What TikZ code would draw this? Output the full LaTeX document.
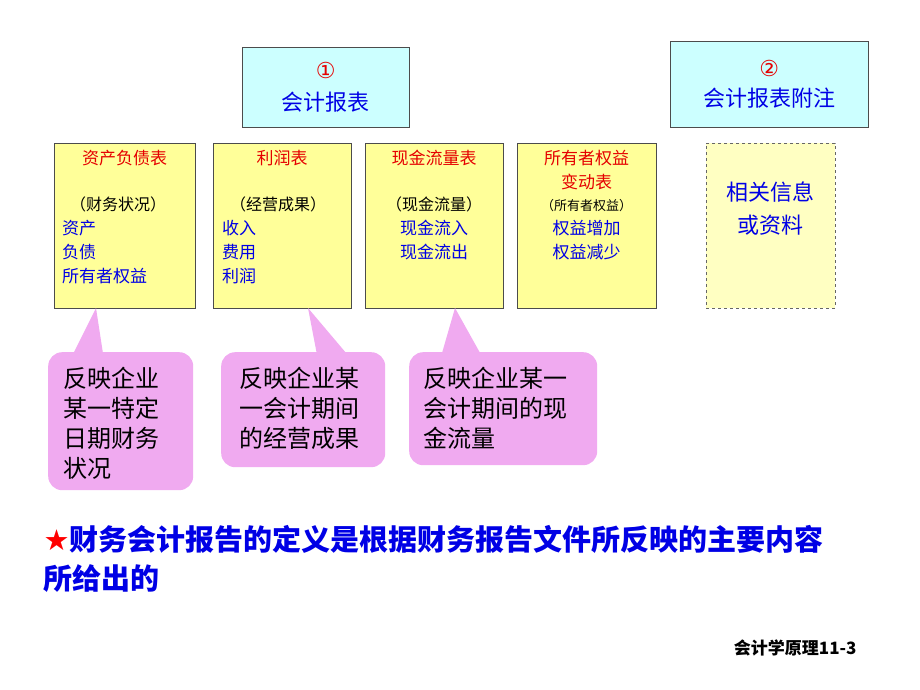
\documentclass[tikz,border=0pt]{standalone}
\usepackage{fontspec}
\setmainfont{Noto Sans CJK SC}
\newfontfamily\symfont{DejaVu Sans}
\usetikzlibrary{positioning}
\colorlet{myred}{red!90!black}
\colorlet{myblue}{blue!90!black}
\definecolor{paleyellow}{RGB}{255,255,153}
\definecolor{palecyan}{RGB}{204,255,255}
\definecolor{pink}{RGB}{240,170,240}
\tikzset{
  reportbox/.style={draw=black!70,fill=paleyellow,minimum width=141pt,minimum height=165pt,anchor=north west,inner sep=0pt},
  titlebox/.style={draw=black!70,fill=palecyan,anchor=north west,inner sep=0pt},
  callout/.style={fill=pink,rounded corners=14pt,anchor=north west,inner sep=0pt}
}
\begin{document}
\begin{tikzpicture}[x=1pt,y=-1pt,font=\fontsize{17}{24}\selectfont]
\useasboundingbox (0,0) rectangle (920,690);
% top title boxes
\node[titlebox,minimum width=167pt,minimum height=80pt] (rep) at (242,47)
  {\parbox{160pt}{\centering\fontsize{22}{32}\selectfont\color{myred}{\symfont ①}\\\color{myblue}会计报表}};
\node[titlebox,minimum width=198pt,minimum height=86pt] (note) at (670,41)
  {\parbox{190pt}{\centering\fontsize{22}{30}\selectfont\color{myred}{\symfont ②}\\\color{myblue}会计报表附注}};
% four statements
\node[reportbox] (bal) at (54,143) {};
\node[reportbox,minimum width=138pt] (inc) at (213,143) {};
\node[reportbox,minimum width=138pt] (cash) at (365,143) {};
\node[reportbox,minimum width=139pt] (eq) at (517,143) {};
\node[reportbox,minimum width=129pt,dashed,draw=black!60,fill=paleyellow!60] (info) at (706,143) {};
\node[anchor=north,text=myred] (balt) at (bal.north) [yshift=-4pt] {资产负债表};
\node[anchor=north west,align=left,text=myblue,inner sep=0pt] (balb) at ([xshift=8pt,yshift=-54pt]bal.north west)
  {\hspace*{8pt}\color{black}\fontsize{16}{24}\selectfont （财务状况）\\资产\\负债\\所有者权益};
\node[anchor=north,text=myred] (inct) at (inc.north) [yshift=-4pt] {利润表};
\node[anchor=north west,align=left,text=myblue,inner sep=0pt] (incb) at ([xshift=9pt,yshift=-54pt]inc.north west)
  {\hspace*{8pt}\color{black}\fontsize{16}{24}\selectfont （经营成果）\\收入\\费用\\利润};
\node[anchor=north,text=myred] (casht) at (cash.north) [yshift=-4pt] {现金流量表};
\node[anchor=north,align=center,text=myblue,inner sep=0pt] (cashb) at ([yshift=-54pt]cash.north)
  {\color{black}\fontsize{16}{24}\selectfont （现金流量）\\现金流入\\现金流出};
\node[anchor=north,text=myred,align=center] (eqt) at (eq.north) [yshift=-4pt] {所有者权益\\变动表};
\node[anchor=north,align=center,text=myblue,inner sep=0pt] (eqb) at ([yshift=-56pt]eq.north)
  {\color{black}\fontsize{13}{23}\selectfont （所有者权益）\\权益增加\\权益减少};
\node[text=myblue,align=center,font=\fontsize{22}{33}\selectfont] (infot) at ([yshift=-66pt]info.north) {相关信息\\或资料};
% callouts
\node[callout,minimum width=145pt,minimum height=138pt] (c1) at (48,352) {};
\fill[pink] (70,360) -- (96,308) -- (104,360) -- cycle;
\node[anchor=north west,align=left,font=\fontsize{24}{30}\selectfont] at (60,364) {反映企业\\某一特定\\日期财务\\状况};
\node[callout,minimum width=164pt,minimum height=115pt] (c2) at (221,352) {};
\fill[pink] (318,360) -- (308,308) -- (352,360) -- cycle;
\node[anchor=north west,align=left,font=\fontsize{24}{30}\selectfont] at (236,364) {反映企业某\\一会计期间\\的经营成果};
\node[callout,minimum width=188pt,minimum height=113pt] (c3) at (409,352) {};
\fill[pink] (440,360) -- (455,308) -- (484,360) -- cycle;
\node[anchor=north west,align=left,font=\fontsize{24}{30}\selectfont] at (420,364) {反映企业某一\\会计期间的现\\金流量};
% bottom text
\node[anchor=north west,align=left,text=myblue,font=\bfseries\fontsize{29}{39}\selectfont] (def) at (40,522)
  {{\color{red}\symfont ★}财务会计报告的定义是根据财务报告文件所反映的主要内容\\所给出的};
\node[anchor=east,font=\bfseries\fontsize{17}{20}\selectfont] (foot) at (860,648) {会计学原理11-3};
\end{tikzpicture}
\end{document}
